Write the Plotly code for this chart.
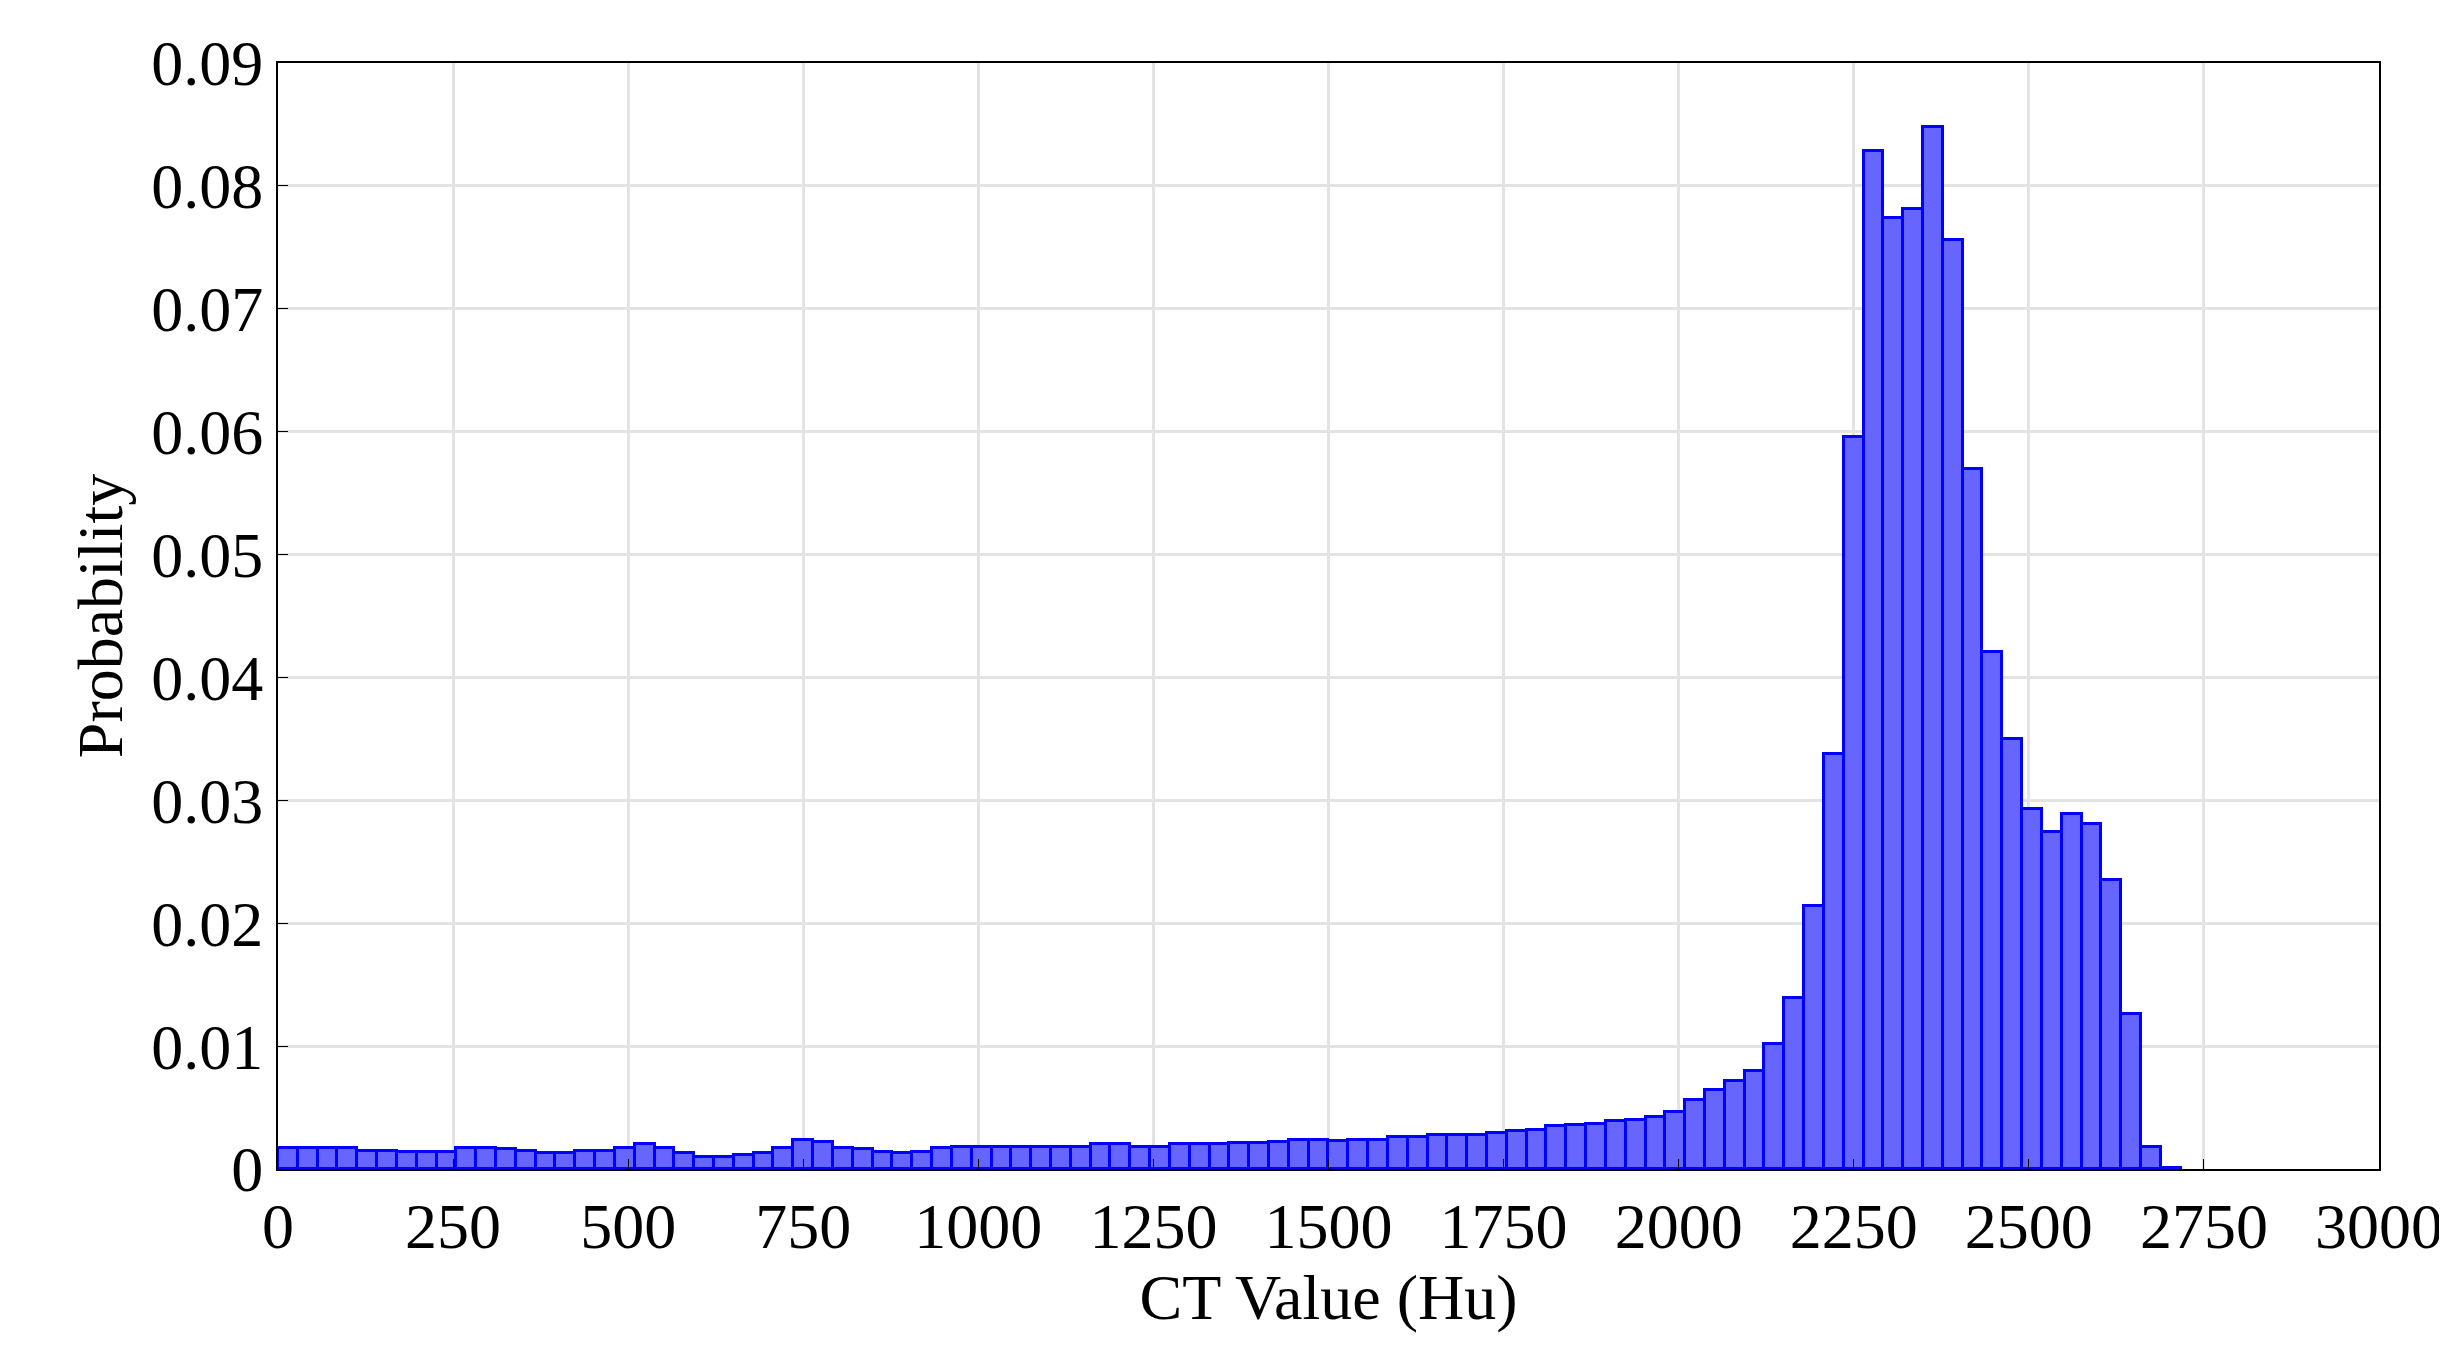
import plotly.graph_objects as go

bin_width = 28.3
probability = [
    0.0017, 0.0017, 0.0017, 0.0017, 0.0015, 0.0015, 0.0014, 0.0014, 0.0014, 0.0017,
    0.0017, 0.0016, 0.0015, 0.0013, 0.0013, 0.0015, 0.0015, 0.0017, 0.0020, 0.0017,
    0.0013, 0.0010, 0.0010, 0.0011, 0.0013, 0.0017, 0.0024, 0.0022, 0.0017, 0.0016,
    0.0014, 0.0013, 0.0014, 0.0017, 0.0018, 0.0018, 0.0018, 0.0018, 0.0018, 0.0018,
    0.0018, 0.0020, 0.0020, 0.0018, 0.0018, 0.0020, 0.0020, 0.0020, 0.0021, 0.0021,
    0.0022, 0.0024, 0.0024, 0.0023, 0.0024, 0.0024, 0.0026, 0.0026, 0.0028, 0.0028,
    0.0028, 0.0029, 0.0031, 0.0032, 0.0035, 0.0036, 0.0037, 0.0039, 0.0040, 0.0042,
    0.0046, 0.0056, 0.0064, 0.0072, 0.0080, 0.0102, 0.0139, 0.0214, 0.0338, 0.0596,
    0.0828, 0.0774, 0.0781, 0.0848, 0.0756, 0.0570, 0.0421, 0.0350, 0.0293, 0.0274,
    0.0289, 0.0281, 0.0235, 0.0126, 0.0018, 0.0001,
]
x_ticks = list(range(0, 3001, 250))
y_ticks = [0, 0.01, 0.02, 0.03, 0.04, 0.05, 0.06, 0.07, 0.08, 0.09]
y_labels = ["0", "0.01", "0.02", "0.03", "0.04", "0.05", "0.06", "0.07", "0.08", "0.09"]

centers = [(i + 0.5) * bin_width for i in range(len(probability))]

fig = go.Figure(go.Bar(
    x=centers, y=probability, width=bin_width,
    marker=dict(color="#6666ff", line=dict(color="#0000ff", width=3)),
))

font = "Liberation Serif, DejaVu Serif, serif"
axis_common = dict(showline=True, linecolor="black", linewidth=2, mirror=True,
                   showgrid=True, gridcolor="#e3e3e3", gridwidth=3,
                   ticks="inside", ticklen=10, tickcolor="black", zeroline=False,
                   tickfont=dict(size=64, color="black", family=font))
fig.update_xaxes(range=[0, 3000], tickvals=x_ticks, ticktext=[str(t) for t in x_ticks],
                 title=dict(text="CT Value (Hu)", font=dict(size=64, color="black", family=font), standoff=8),
                 **axis_common)
fig.update_yaxes(range=[0, 0.09], tickvals=y_ticks, ticktext=y_labels,
                 title=dict(text="Probability", font=dict(size=64, color="black", family=font), standoff=8),
                 **axis_common)
fig.update_layout(width=2447, height=1361, plot_bgcolor="white", paper_bgcolor="white",
                  margin=dict(l=270, r=66, t=55, b=200), bargap=0, showlegend=False)
fig.write_html("out.html")
